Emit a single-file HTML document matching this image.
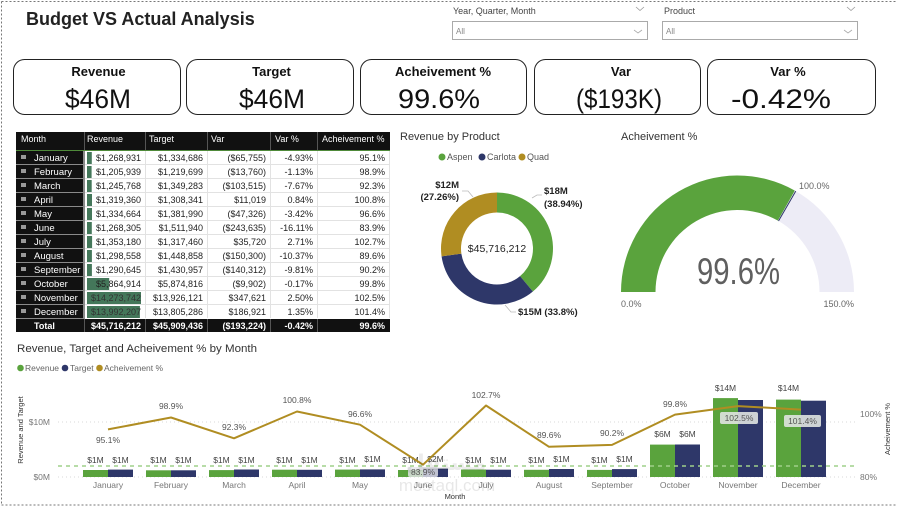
<!DOCTYPE html>
<html><head><meta charset="utf-8"><style>
html,body{margin:0;padding:0;background:#fff;}
svg{display:block;font-family:"Liberation Sans",sans-serif;}
</style></head><body>
<svg width="897" height="506" viewBox="0 0 897 506" xmlns="http://www.w3.org/2000/svg">
<rect width="897" height="506" fill="#fff"/>
<!-- dashed page border -->
<line x1="1.5" y1="1.5" x2="897" y2="1.5" stroke="#777" stroke-dasharray="2,2"/>
<line x1="1.5" y1="1.5" x2="1.5" y2="505" stroke="#777" stroke-dasharray="2,2"/>
<line x1="1.5" y1="505" x2="897" y2="505" stroke="#777" stroke-dasharray="2,2"/>

<!-- title -->
<text x="26" y="25" font-size="18" font-weight="bold" fill="#222">Budget VS Actual Analysis</text>

<!-- slicers -->
<text x="453" y="14" font-size="9" fill="#444">Year, Quarter, Month</text>
<polyline points="636,7 640,10.5 644,7" fill="none" stroke="#999" stroke-width="0.8"/>
<rect x="452.5" y="21.5" width="195" height="18" fill="#fff" stroke="#aaa"/>
<text x="456" y="34" font-size="8" fill="#888">All</text>
<polyline points="634,30 638,33 642,30" fill="none" stroke="#aaa" stroke-width="0.8"/>
<text x="664" y="14" font-size="9" fill="#444">Product</text>
<polyline points="847,7 851,10.5 855,7" fill="none" stroke="#999" stroke-width="0.8"/>
<rect x="662.5" y="21.5" width="195" height="18" fill="#fff" stroke="#aaa"/>
<text x="666" y="34" font-size="8" fill="#888">All</text>
<polyline points="844,30 848,33 852,30" fill="none" stroke="#aaa" stroke-width="0.8"/>

<!-- KPI cards -->
<g fill="#fff" stroke="#222" stroke-width="1">
<rect x="13.5" y="59.5" width="167" height="55" rx="11"/>
<rect x="186.5" y="59.5" width="167" height="55" rx="11"/>
<rect x="360.5" y="59.5" width="166" height="55" rx="11"/>
<rect x="534.5" y="59.5" width="166" height="55" rx="11"/>
<rect x="707.5" y="59.5" width="168" height="55" rx="11"/>
</g>
<g font-size="13" font-weight="bold" fill="#111" text-anchor="middle">
<text x="98.5" y="76">Revenue</text>
<text x="271.5" y="76">Target</text>
<text x="443" y="76">Acheivement %</text>
<text x="621" y="76">Var</text>
<text x="788" y="76">Var %</text>
</g>
<g font-size="27" fill="#111" text-anchor="middle">
<text x="98" y="108" textLength="66" lengthAdjust="spacingAndGlyphs">$46M</text>
<text x="272" y="108" textLength="66" lengthAdjust="spacingAndGlyphs">$46M</text>
<text x="439" y="108" textLength="82" lengthAdjust="spacingAndGlyphs">99.6%</text>
<text x="619" y="108" textLength="86" lengthAdjust="spacingAndGlyphs">($193K)</text>
<text x="781" y="108" textLength="100" lengthAdjust="spacingAndGlyphs">-0.42%</text>
</g>

<!-- TABLE -->
<rect x="16" y="132" width="374" height="18" fill="#111"/>
<g stroke="#555" stroke-width="1">
<line x1="84.5" y1="132" x2="84.5" y2="150"/><line x1="145.5" y1="132" x2="145.5" y2="150"/>
<line x1="207.5" y1="132" x2="207.5" y2="150"/><line x1="270.5" y1="132" x2="270.5" y2="150"/>
<line x1="317.5" y1="132" x2="317.5" y2="150"/>
</g>
<line x1="16" y1="150.5" x2="390" y2="150.5" stroke="#4f8a3a" stroke-width="1"/>
<g font-size="9" fill="#fff">
<text x="21" y="142">Month</text><text x="87" y="142">Revenue</text><text x="149" y="142">Target</text>
<text x="211" y="142">Var</text><text x="275" y="142">Var %</text><text x="322" y="142">Acheivement %</text>
</g>
<!-- month column -->
<rect x="16" y="151" width="69" height="168" fill="#8a8a8a"/>
<g fill="#111">
<rect x="16" y="151" width="67" height="13"/><rect x="16" y="165" width="67" height="13"/>
<rect x="16" y="179" width="67" height="13"/><rect x="16" y="193" width="67" height="13"/>
<rect x="16" y="207" width="67" height="13"/><rect x="16" y="221" width="67" height="13"/>
<rect x="16" y="235" width="67" height="13"/><rect x="16" y="249" width="67" height="13"/>
<rect x="16" y="263" width="67" height="13"/><rect x="16" y="277" width="67" height="13"/>
<rect x="16" y="291" width="67" height="13"/><rect x="16" y="305" width="67" height="13"/>
</g>
<g fill="#9a9a9a">
<rect x="21" y="155" width="5" height="4"/><rect x="21" y="169" width="5" height="4"/>
<rect x="21" y="183" width="5" height="4"/><rect x="21" y="197" width="5" height="4"/>
<rect x="21" y="211" width="5" height="4"/><rect x="21" y="225" width="5" height="4"/>
<rect x="21" y="239" width="5" height="4"/><rect x="21" y="253" width="5" height="4"/>
<rect x="21" y="267" width="5" height="4"/><rect x="21" y="281" width="5" height="4"/>
<rect x="21" y="295" width="5" height="4"/><rect x="21" y="309" width="5" height="4"/>
</g>
<!-- data cell grid -->
<rect x="85" y="151" width="305" height="167" fill="#fff"/>
<g stroke="#e2e2e2" stroke-width="1">
<line x1="85" y1="164.5" x2="390" y2="164.5"/><line x1="85" y1="178.5" x2="390" y2="178.5"/>
<line x1="85" y1="192.5" x2="390" y2="192.5"/><line x1="85" y1="206.5" x2="390" y2="206.5"/>
<line x1="85" y1="220.5" x2="390" y2="220.5"/><line x1="85" y1="234.5" x2="390" y2="234.5"/>
<line x1="85" y1="248.5" x2="390" y2="248.5"/><line x1="85" y1="262.5" x2="390" y2="262.5"/>
<line x1="85" y1="276.5" x2="390" y2="276.5"/><line x1="85" y1="290.5" x2="390" y2="290.5"/>
<line x1="85" y1="304.5" x2="390" y2="304.5"/>
<line x1="145.5" y1="151" x2="145.5" y2="318"/><line x1="207.5" y1="151" x2="207.5" y2="318"/>
<line x1="270.5" y1="151" x2="270.5" y2="318"/><line x1="317.5" y1="151" x2="317.5" y2="318"/>
<line x1="389.5" y1="151" x2="389.5" y2="318"/>
</g>
<!-- databars -->
<g fill="#44775a">
<rect x="87" y="152" width="4.8" height="12"/><rect x="87" y="166" width="4.6" height="12"/>
<rect x="87" y="180" width="4.7" height="12"/><rect x="87" y="194" width="5" height="12"/>
<rect x="87" y="208" width="5" height="12"/><rect x="87" y="222" width="4.8" height="12"/>
<rect x="87" y="236" width="5.1" height="12"/><rect x="87" y="250" width="4.9" height="12"/>
<rect x="87" y="264" width="4.9" height="12"/><rect x="87" y="278" width="22.2" height="12"/>
<rect x="87" y="292" width="54" height="12"/><rect x="87" y="306" width="52.9" height="12"/>
</g>
<g font-size="9.5" fill="#fff">
<text x="34" y="161">January</text><text x="34" y="175">February</text><text x="34" y="189">March</text>
<text x="34" y="203">April</text><text x="34" y="217">May</text><text x="34" y="231">June</text>
<text x="34" y="245">July</text><text x="34" y="259">August</text><text x="34" y="273">September</text>
<text x="34" y="287">October</text><text x="34" y="301">November</text><text x="34" y="315">December</text>
</g>
<g font-size="9" fill="#222" text-anchor="end">
<text x="141" y="161">$1,268,931</text><text x="141" y="175">$1,205,939</text><text x="141" y="189">$1,245,768</text>
<text x="141" y="203">$1,319,360</text><text x="141" y="217">$1,334,664</text><text x="141" y="231">$1,268,305</text>
<text x="141" y="245">$1,353,180</text><text x="141" y="259">$1,298,558</text><text x="141" y="273">$1,290,645</text>
<text x="141" y="287">$5,864,914</text><text x="141" y="301" fill="#333">$14,273,742</text><text x="141" y="315" fill="#333">$13,992,207</text>
<text x="203" y="161">$1,334,686</text><text x="203" y="175">$1,219,699</text><text x="203" y="189">$1,349,283</text>
<text x="203" y="203">$1,308,341</text><text x="203" y="217">$1,381,990</text><text x="203" y="231">$1,511,940</text>
<text x="203" y="245">$1,317,460</text><text x="203" y="259">$1,448,858</text><text x="203" y="273">$1,430,957</text>
<text x="203" y="287">$5,874,816</text><text x="203" y="301">$13,926,121</text><text x="203" y="315">$13,805,286</text>
<text x="266" y="161">($65,755)</text><text x="266" y="175">($13,760)</text><text x="266" y="189">($103,515)</text>
<text x="266" y="203">$11,019</text><text x="266" y="217">($47,326)</text><text x="266" y="231">($243,635)</text>
<text x="266" y="245">$35,720</text><text x="266" y="259">($150,300)</text><text x="266" y="273">($140,312)</text>
<text x="266" y="287">($9,902)</text><text x="266" y="301">$347,621</text><text x="266" y="315">$186,921</text>
<text x="313" y="161">-4.93%</text><text x="313" y="175">-1.13%</text><text x="313" y="189">-7.67%</text>
<text x="313" y="203">0.84%</text><text x="313" y="217">-3.42%</text><text x="313" y="231">-16.11%</text>
<text x="313" y="245">2.71%</text><text x="313" y="259">-10.37%</text><text x="313" y="273">-9.81%</text>
<text x="313" y="287">-0.17%</text><text x="313" y="301">2.50%</text><text x="313" y="315">1.35%</text>
<text x="385" y="161">95.1%</text><text x="385" y="175">98.9%</text><text x="385" y="189">92.3%</text>
<text x="385" y="203">100.8%</text><text x="385" y="217">96.6%</text><text x="385" y="231">83.9%</text>
<text x="385" y="245">102.7%</text><text x="385" y="259">89.6%</text><text x="385" y="273">90.2%</text>
<text x="385" y="287">99.8%</text><text x="385" y="301">102.5%</text><text x="385" y="315">101.4%</text>
</g>
<!-- total row -->
<rect x="16" y="319" width="374" height="13" fill="#111"/>
<g stroke="#555"><line x1="84.5" y1="319" x2="84.5" y2="332"/><line x1="145.5" y1="319" x2="145.5" y2="332"/>
<line x1="207.5" y1="319" x2="207.5" y2="332"/><line x1="270.5" y1="319" x2="270.5" y2="332"/><line x1="317.5" y1="319" x2="317.5" y2="332"/></g>
<g font-size="9" font-weight="bold" fill="#fff">
<text x="34" y="329">Total</text>
<g text-anchor="end"><text x="141" y="329">$45,716,212</text><text x="203" y="329">$45,909,436</text>
<text x="266" y="329">($193,224)</text><text x="313" y="329">-0.42%</text><text x="385" y="329">99.6%</text></g>
</g>

<!-- DONUT -->
<text x="400" y="140" font-size="11" fill="#333">Revenue by Product</text>
<circle cx="442" cy="157" r="3.5" fill="#5aa33d"/><text x="447" y="160" font-size="9" fill="#555">Aspen</text>
<circle cx="482" cy="157" r="3.5" fill="#2e3769"/><text x="487" y="160" font-size="9" fill="#555">Carlota</text>
<circle cx="522" cy="157" r="3.5" fill="#b08d22"/><text x="527" y="160" font-size="9" fill="#555">Quad</text>
<path d="M497,192.5 A56,56 0 0 1 532.87,291.5 L520.06,276.14 A36,36 0 0 0 497,212.5 Z" fill="#5aa33d"/>
<path d="M532.87,291.5 A56,56 0 0 1 441.57,256.43 L461.36,253.6 A36,36 0 0 0 520.06,276.14 Z" fill="#2e3769"/>
<path d="M441.57,256.43 A56,56 0 0 1 497,192.5 L497,212.5 A36,36 0 0 0 461.36,253.6 Z" fill="#b08d22"/>
<text x="497" y="252" font-size="10.5" fill="#222" text-anchor="middle">$45,716,212</text>
<g stroke="#bbb" stroke-width="0.8" fill="none">
<polyline points="532,198 537,195 542,195"/>
<polyline points="473,197 468,191 462,191"/>
<polyline points="505,305 511,312 516,312"/>
</g>
<g font-size="9.5" font-weight="bold" fill="#222">
<text x="544" y="194">$18M</text><text x="544" y="207">(38.94%)</text>
<text x="459" y="188" text-anchor="end">$12M</text><text x="459" y="200" text-anchor="end">(27.26%)</text>
<text x="518" y="315">$15M (33.8%)</text>
</g>

<!-- GAUGE -->
<text x="621" y="140" font-size="11" fill="#333">Acheivement %</text>
<path d="M621,292 A116.5,116.5 0 0 1 794.88,190.61 L777.9,220.6 A82,82 0 0 0 655.5,292 Z" fill="#5aa33d"/>
<path d="M794.88,190.61 A116.5,116.5 0 0 1 854,292 L819.5,292 A82,82 0 0 0 777.9,220.6 Z" fill="#edecf6"/>
<line x1="795.75" y1="191.11" x2="778.5" y2="220.99" stroke="#2e3769" stroke-width="1"/>
<text x="738.5" y="284" font-size="37" fill="#5f5f5f" text-anchor="middle" textLength="83" lengthAdjust="spacingAndGlyphs">99.6%</text>
<g font-size="9" fill="#666">
<text x="621" y="307">0.0%</text>
<text x="854" y="307" text-anchor="end">150.0%</text>
<text x="799" y="189">100.0%</text>
</g>

<!-- COMBO CHART -->
<text x="17" y="352" font-size="11" fill="#333" textLength="240" lengthAdjust="spacingAndGlyphs">Revenue, Target and Acheivement % by Month</text>
<g font-size="8.5" fill="#666">
<circle cx="20.5" cy="368" r="3.3" fill="#5aa33d"/><text x="25" y="371">Revenue</text>
<circle cx="65" cy="368" r="3.3" fill="#2e3769"/><text x="70" y="371">Target</text>
<circle cx="99.5" cy="368" r="3.3" fill="#b08d22"/><text x="104" y="371">Acheivement %</text>
</g>
<text transform="translate(23,430) rotate(-90)" font-size="7.5" fill="#333" text-anchor="middle">Revenue and Target</text>
<text transform="translate(890,429) rotate(-90)" font-size="7.5" fill="#333" text-anchor="middle">Acheivement %</text>
<g font-size="8.5" fill="#777">
<text x="50" y="425" text-anchor="end">$10M</text>
<text x="50" y="480" text-anchor="end">$0M</text>
<text x="860" y="417">100%</text>
<text x="860" y="480">80%</text>
</g>
<g stroke="#ccc" stroke-width="0.8" stroke-dasharray="1,3">
<line x1="58" y1="422" x2="855" y2="422"/>
<line x1="58" y1="477" x2="855" y2="477"/>
</g>
<!-- bars -->
<g fill="#5aa33d">
<rect x="83" y="470" width="25" height="7"/><rect x="146" y="470.3" width="25" height="6.7"/>
<rect x="209" y="470.1" width="25" height="6.9"/><rect x="272" y="469.7" width="25" height="7.3"/>
<rect x="335" y="469.6" width="25" height="7.4"/><rect x="398" y="470" width="25" height="7"/>
<rect x="461" y="469.5" width="25" height="7.5"/><rect x="524" y="469.8" width="25" height="7.2"/>
<rect x="587" y="469.9" width="25" height="7.1"/><rect x="650" y="444.6" width="25" height="32.4"/>
<rect x="713" y="398.1" width="25" height="78.9"/><rect x="776" y="399.6" width="25" height="77.4"/>
</g>
<g fill="#2e3769">
<rect x="108" y="469.6" width="25" height="7.4"/><rect x="171" y="470.3" width="25" height="6.7"/>
<rect x="234" y="469.5" width="25" height="7.5"/><rect x="297" y="469.8" width="25" height="7.2"/>
<rect x="360" y="469.4" width="25" height="7.6"/><rect x="423" y="468.6" width="25" height="8.4"/>
<rect x="486" y="469.7" width="25" height="7.3"/><rect x="549" y="469" width="25" height="8"/>
<rect x="612" y="469.1" width="25" height="7.9"/><rect x="675" y="444.5" width="25" height="32.5"/>
<rect x="738" y="400" width="25" height="77"/><rect x="801" y="400.7" width="25" height="76.3"/>
</g>
<line x1="58" y1="466" x2="855" y2="466" stroke="#9fd08a" stroke-width="1.5" stroke-dasharray="4,4"/>
<!-- bar labels -->
<g font-size="8.5" fill="#444" text-anchor="middle">
<text x="95.5" y="463">$1M</text><text x="120.5" y="463">$1M</text>
<text x="158.5" y="463">$1M</text><text x="183.5" y="463">$1M</text>
<text x="221.5" y="463">$1M</text><text x="246.5" y="463">$1M</text>
<text x="284.5" y="463">$1M</text><text x="309.5" y="463">$1M</text>
<text x="347.5" y="463">$1M</text><text x="372.5" y="462">$1M</text>
<text x="410.5" y="463">$1M</text><text x="435.5" y="462">$2M</text>
<text x="473.5" y="463">$1M</text><text x="498.5" y="463">$1M</text>
<text x="536.5" y="463">$1M</text><text x="561.5" y="462">$1M</text>
<text x="599.5" y="463">$1M</text><text x="624.5" y="462">$1M</text>
<text x="662.5" y="437">$6M</text><text x="687.5" y="437">$6M</text>
<text x="725.5" y="391">$14M</text>
<text x="788.5" y="391">$14M</text>
</g>
<!-- line -->
<polyline points="108,429.4 171,417.5 234,438.3 297,411.5 360,424.7 423,464.7 486,405.5 549,446.8 612,444.9 675,414.6 738,406.1 801,409.6" fill="none" stroke="#b08d22" stroke-width="2" stroke-linejoin="round"/>
<rect x="720" y="412" width="38" height="12" rx="2" fill="#dfe3e0" opacity="0.9"/>
<rect x="784" y="415" width="37" height="12" rx="2" fill="#dfe3e0" opacity="0.9"/>
<rect x="408" y="467" width="30" height="10" rx="2" fill="#e6e6ec" opacity="0.8"/>
<g font-size="8.5" fill="#555" text-anchor="middle">
<text x="108" y="443">95.1%</text>
<text x="171" y="409">98.9%</text>
<text x="234" y="430">92.3%</text>
<text x="297" y="403">100.8%</text>
<text x="360" y="417">96.6%</text>
<text x="423" y="475">83.9%</text>
<text x="486" y="398">102.7%</text>
<text x="549" y="438">89.6%</text>
<text x="612" y="436">90.2%</text>
<text x="675" y="407">99.8%</text>
<text x="739" y="421">102.5%</text>
<text x="802.5" y="424">101.4%</text>
</g>
<!-- x labels -->
<g font-size="8.5" fill="#777" text-anchor="middle">
<text x="108" y="488">January</text><text x="171" y="488">February</text><text x="234" y="488">March</text>
<text x="297" y="488">April</text><text x="360" y="488">May</text><text x="423" y="488">June</text>
<text x="486" y="488">July</text><text x="549" y="488">August</text><text x="612" y="488">September</text>
<text x="675" y="488">October</text><text x="738" y="488">November</text><text x="801" y="488">December</text>
</g>
<text x="455" y="499" font-size="7.5" fill="#333" text-anchor="middle">Month</text>
<!-- watermark -->
<text x="446" y="470" font-size="22" font-family="'DejaVu Sans',sans-serif" font-weight="bold" fill="#000" opacity="0.07" text-anchor="middle">مستقل</text>
<text x="447" y="491" font-size="17" fill="#000" opacity="0.09" text-anchor="middle">mostaql.com</text>
</svg>
</body></html>
